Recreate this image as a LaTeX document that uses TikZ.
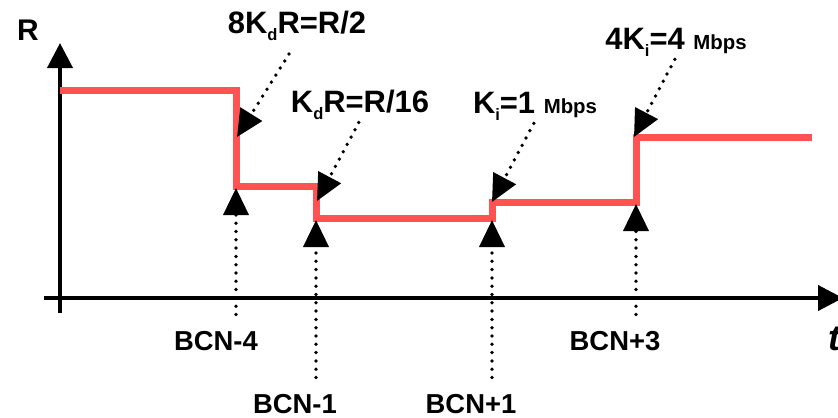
\documentclass[tikz,border=0pt]{standalone}
\usepackage{fontspec}
\setmainfont{Liberation Sans}
\usetikzlibrary{arrows.meta}
\definecolor{rateRed}{RGB}{255,82,82}
\newcommand\lowsub[1]{\raisebox{-4.4pt}{\fontsize{9.4}{9.4}\selectfont #1}}
\newcommand\unitsz[1]{{\fontsize{11.6}{11.6}\selectfont #1}}

\begin{document}
\begin{tikzpicture}[
    x=0.2mm, y=-0.2mm,
    font=\bfseries,
    axis/.style={line width=0.8mm, -{Triangle[length=5mm, width=5mm]}},
    rate/.style={line width=1.4mm, draw=rateRed},
    pointer/.style={line width=0.75mm, line cap=round, dash pattern=on 0pt off 1.66mm,
        -{Triangle[length=5.4mm, width=5mm]}},
    biglabel/.style={font=\fontsize{17.6}{17.6}\selectfont\bfseries, inner sep=0pt, anchor=base},
    bcnlabel/.style={font=\fontsize{15.6}{15.6}\selectfont\bfseries, inner sep=0pt, anchor=base},
]
\useasboundingbox (0,0) rectangle (838,417);

% Axes
\draw[axis] (60,313) -- (60,43);
\draw[axis] (44,298) -- (843,298);
\node[bcnlabel, font=\fontsize{17}{17}\selectfont\bfseries] (lblR) at (28,40) {R};
\node[bcnlabel, font=\fontsize{20.5}{20.5}\selectfont\bfseries\itshape] (lblT) at (834,350) {t};

% Rate curve
\draw[rate] (60,90) -| (236,186) -| (316,218) -| (492,202) -| (636,137) -- (812,137);

% Points the pointers land on
\coordinate (dropA) at (237,137);
\coordinate (dropB) at (317,201);
\coordinate (riseA) at (492,202);
\coordinate (riseB) at (634,137);
\coordinate (bcnA) at (236,188);
\coordinate (bcnB) at (316,220);
\coordinate (bcnC) at (492,220);
\coordinate (bcnD) at (636,204);

% Gain labels
\node[biglabel] (gainA) at (297,33) {8K\lowsub{d}R=R/2};
\node[biglabel] (gainB) at (360,112) {K\lowsub{d}R=R/16};
\node[biglabel] (gainC) at (535,113) {K\lowsub{i}=1 \unitsz{Mbps}};
\node[biglabel] (gainD) at (676,49) {4K\lowsub{i}=4 \unitsz{Mbps}};

\draw[pointer, shorten <=3mm] (gainA.south) -- (dropA);
\draw[pointer, shorten <=0.5mm] (gainB.south) -- (dropB);
\draw[pointer, shorten <=0.5mm] (gainC.south) -- (riseA);
\draw[pointer, shorten <=0.5mm] (gainD.south) -- (riseB);

% BCN messages
\node[bcnlabel] (msgA) at (216,350) {BCN-4};
\node[bcnlabel] (msgB) at (295,413) {BCN-1};
\node[bcnlabel] (msgC) at (471,413) {BCN+1};
\node[bcnlabel] (msgD) at (615,350) {BCN+3};

\draw[pointer, shorten <=3.2mm] (msgA.north -| bcnA) -- (bcnA);
\draw[pointer, shorten <=3.2mm] (msgB.north -| bcnB) -- (bcnB);
\draw[pointer, shorten <=3.2mm] (msgC.north -| bcnC) -- (bcnC);
\draw[pointer, shorten <=3.2mm] (msgD.north -| bcnD) -- (bcnD);

\end{tikzpicture}
\end{document}
